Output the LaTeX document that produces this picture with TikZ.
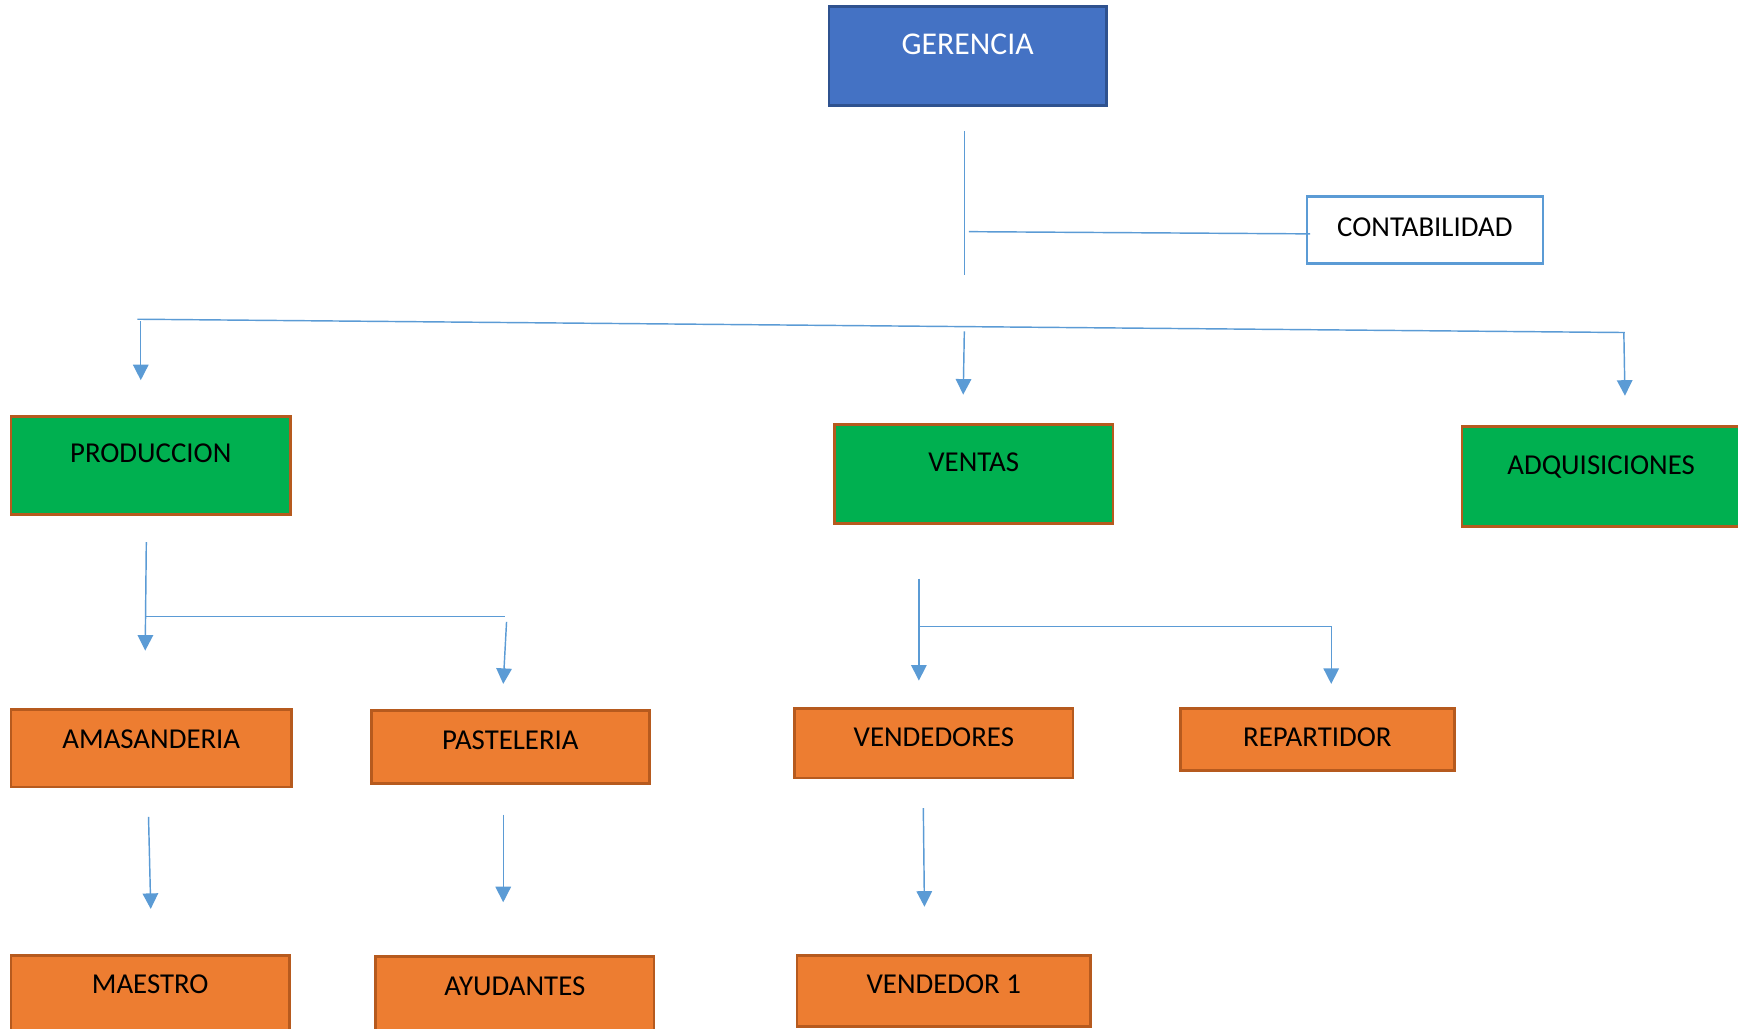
\documentclass[tikz,border=0pt]{standalone}
\usepackage{fontspec}
\setmainfont{Carlito}
\usetikzlibrary{arrows.meta}
\definecolor{linkblue}{HTML}{5B9BD5}
\definecolor{headfill}{HTML}{4472C4}
\definecolor{headdraw}{HTML}{2F528F}
\definecolor{deptgreen}{HTML}{00B050}
\definecolor{unitorange}{HTML}{ED7D31}
\definecolor{unitdraw}{HTML}{B65A1E}
\begin{document}
\begin{tikzpicture}[x=1pt,y=-1pt,
  orgbox/.style={rectangle, inner ysep=0pt, inner xsep=0pt, line width=2.4pt,
    font=\fontsize{26}{30}\selectfont, text=black},
  headbox/.style={orgbox, fill=headfill, draw=headdraw, text=white,
    font=\fontsize{28.6}{32}\selectfont},
  sidebox/.style={orgbox, fill=white, draw=linkblue},
  deptbox/.style={orgbox, fill=deptgreen, draw=unitdraw},
  unitbox/.style={orgbox, fill=unitorange, draw=unitdraw},
  link/.style={draw=linkblue, line width=1.3pt},
  arrowlink/.style={link, -{Triangle[width=14pt,length=14pt]}}]
\useasboundingbox (0,0) rectangle (1568,928);

% boxes
\node[headbox, minimum width=250pt, text height=43.2pt, text depth=45.8pt] (ger) at (873,50.5) {GERENCIA};
\node[sidebox, minimum width=213pt, text height=36.4pt, text depth=24.6pt] (cont) at (1285.5,207.5) {CONTABILIDAD};

\node[deptbox, minimum width=252pt, text height=41.4pt, text depth=46.6pt] (prod) at (136,420) {PRODUCCION};
\node[deptbox, minimum width=251pt, text height=42.4pt, text depth=46.6pt] (vent) at (878.5,427.5) {VENTAS};
\node[deptbox, minimum width=251pt, text height=43.4pt, text depth=46.6pt] (adq) at (1444.5,430) {ADQUISICIONES};

\node[unitbox, minimum width=253pt, text height=35.4pt, text depth=34.6pt] (amas) at (136.5,675) {AMASANDERIA};
\node[unitbox, minimum width=251pt, text height=35.4pt, text depth=30.6pt] (past) at (460.5,674) {PASTELERIA};
\node[unitbox, minimum width=251pt, text height=34.4pt, text depth=38.6pt] (maes) at (135.5,898.5) {MAESTRO};
\node[unitbox, minimum width=251pt, text height=35.4pt, text depth=36.6pt] (ayud) at (464.5,899) {AYUDANTES};
\node[unitbox, minimum width=251pt, text height=34.4pt, text depth=28.6pt] (vend) at (842.5,670.5) {VENDEDORES};
\node[unitbox, minimum width=247pt, text height=34.4pt, text depth=21.6pt] (rep) at (1188.5,667) {REPARTIDOR};
\node[unitbox, minimum width=265pt, text height=34.4pt, text depth=29.6pt] (vend1) at (851.5,894) {VENDEDOR 1};

% connector end points
\coordinate (gTop) at (870,118);
\coordinate (gBot) at (870,248);
\coordinate (cL) at (874,209);
\coordinate (cR) at (1182,211);
\coordinate (barL) at (124,288);
\coordinate (barR) at (1466,300);
\coordinate (pS) at (127,290);
\coordinate (pE) at (127,343);
\coordinate (vS) at (870,299);
\coordinate (vE) at (869,356);
\coordinate (aS) at (1465,300);
\coordinate (aE) at (1466,357);

\coordinate (prS) at (132,489);
\coordinate (prE) at (131,587);
\coordinate (prBL) at (132,556);
\coordinate (prBR) at (456,556);
\coordinate (paS) at (457,561);
\coordinate (paE) at (454,617);
\coordinate (amS) at (134,737);
\coordinate (amE) at (136,820);
\coordinate (psS) at (454,735);
\coordinate (psE) at (454,814);

\coordinate (veS) at (829,522);
\coordinate (veE) at (829,614);
\coordinate (veBL) at (829,565);
\coordinate (veBR) at (1201,565);
\coordinate (reE) at (1201,617);
\coordinate (vdS) at (833,729);
\coordinate (vdE) at (834,818);

% connectors
\draw[link] (gTop) -- (gBot);
\draw[link] (cL) -- (cR);
\draw[link] (barL) -- (barR);
\draw[arrowlink] (pS) -- (pE);
\draw[arrowlink] (vS) -- (vE);
\draw[arrowlink] (aS) -- (aE);

\draw[arrowlink] (prS) -- (prE);
\draw[link] (prBL) -- (prBR);
\draw[arrowlink] (paS) -- (paE);
\draw[arrowlink] (amS) -- (amE);
\draw[arrowlink] (psS) -- (psE);

\draw[arrowlink] (veS) -- (veE);
\draw[arrowlink] (veBL) -- (veBR) -- (reE);
\draw[arrowlink] (vdS) -- (vdE);
\end{tikzpicture}
\end{document}
